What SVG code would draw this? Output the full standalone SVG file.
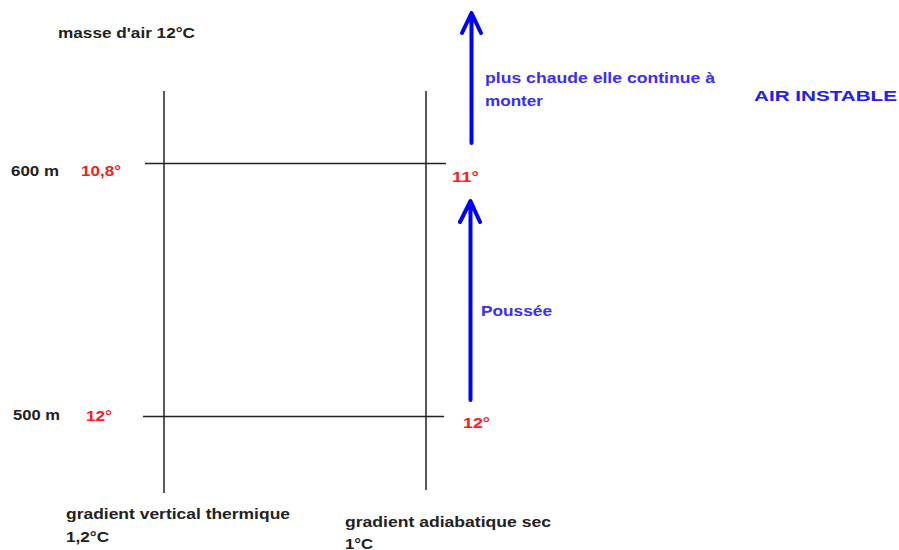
<svg xmlns="http://www.w3.org/2000/svg" width="899" height="550" viewBox="0 0 899 550">
<style>
.t{font-family:"Liberation Sans",Arial,sans-serif;font-weight:bold;font-size:15px;fill:#222}
.r{fill:#ff1a1a}
.b{fill:#3a2bff}
.ln{stroke:#222;stroke-width:1.5;fill:none}
.ar{stroke:#0000ff;stroke-width:4;fill:none;stroke-linecap:round;stroke-linejoin:round}
</style>
<rect width="899" height="550" fill="#fff"/>
<g id="grid">
<line class="ln" x1="164" y1="91" x2="164" y2="493"/>
<line class="ln" x1="426" y1="91" x2="426" y2="490"/>
<line class="ln" x1="145" y1="163.5" x2="446" y2="163.5"/>
<line class="ln" x1="143" y1="416.5" x2="444" y2="416.5"/>
</g>
<g id="connectors">
<path class="ar" d="M471.5 143V13M462 33L471.5 13L481 33"/>
<path class="ar" d="M470.5 400V201M460 222L470.5 201L480 222"/>
</g>
<g id="labels">
<text class="t" x="58" y="38" textLength="137" lengthAdjust="spacingAndGlyphs">masse d'air 12°C</text>
<text class="t b" x="485" y="83" font-size="16" textLength="230" lengthAdjust="spacingAndGlyphs">plus chaude elle continue à</text>
<text class="t b" x="485" y="106" font-size="16" textLength="58" lengthAdjust="spacingAndGlyphs">monter</text>
<text class="t" x="754" y="101" font-size="20" textLength="143" lengthAdjust="spacingAndGlyphs" style="fill:#2020f0">AIR INSTABLE</text>
<text class="t" x="11" y="176" textLength="48" lengthAdjust="spacingAndGlyphs">600 m</text>
<text class="t r" x="81" y="176" font-size="16" textLength="40" lengthAdjust="spacingAndGlyphs">10,8°</text>
<text class="t r" x="452" y="182" font-size="16" textLength="27" lengthAdjust="spacingAndGlyphs">11°</text>
<text class="t" x="13" y="420" textLength="47" lengthAdjust="spacingAndGlyphs">500 m</text>
<text class="t r" x="86" y="421" font-size="16" textLength="26" lengthAdjust="spacingAndGlyphs">12°</text>
<text class="t r" x="463" y="428" font-size="16" textLength="27" lengthAdjust="spacingAndGlyphs">12°</text>
<text class="t b" x="481" y="316" font-size="16" textLength="71" lengthAdjust="spacingAndGlyphs">Poussée</text>
<text class="t" x="66" y="519" font-size="17" textLength="224" lengthAdjust="spacingAndGlyphs">gradient vertical thermique</text>
<text class="t" x="66" y="542" font-size="17" textLength="43" lengthAdjust="spacingAndGlyphs">1,2°C</text>
<text class="t" x="345" y="527" font-size="17" textLength="206" lengthAdjust="spacingAndGlyphs">gradient adiabatique sec</text>
<text class="t" x="345" y="549" font-size="17" textLength="28" lengthAdjust="spacingAndGlyphs">1°C</text>
</g>
</svg>
